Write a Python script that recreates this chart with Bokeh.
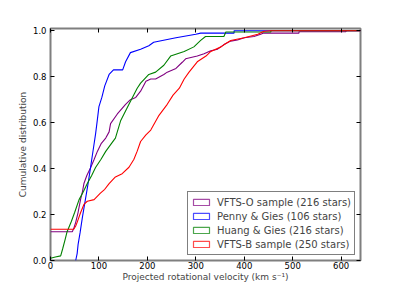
from bokeh.plotting import figure
from bokeh.models import (Range1d, LinearAxis, FixedTicker, PrintfTickFormatter,
                          CustomJSTickFormatter, ColumnDataSource, Legend, LegendItem)
from bokeh.embed import file_html
from bokeh.resources import INLINE

# ---- data ----
vfts_o_v = [0, 45, 48, 52, 57, 62, 66, 69, 75, 83, 90, 97, 105, 114, 121, 124, 138, 155, 165, 176,
            186, 197, 207, 217, 234, 241, 259, 272, 279, 303, 317, 331, 345, 358, 372, 386, 400,
            420, 434, 440, 513, 513, 610, 610, 640]
vfts_o_f = [0.125, 0.125, 0.14, 0.166, 0.21, 0.265, 0.30, 0.335, 0.37, 0.405, 0.44, 0.476, 0.51,
            0.533, 0.56, 0.596, 0.638, 0.68, 0.70, 0.71, 0.737, 0.78, 0.79, 0.79, 0.81, 0.82, 0.836,
            0.863, 0.878, 0.89, 0.90, 0.913, 0.92, 0.94, 0.955, 0.96, 0.97, 0.975, 0.985, 0.99,
            0.99, 0.996, 0.996, 1.0, 1.0]

penny_v = [52, 55, 57, 61, 66, 72, 78, 83, 88, 93, 96, 100, 106, 112, 121, 130, 149, 155, 165,
           186, 203, 213, 259, 300, 310, 379, 379, 640]
penny_f = [0.0, 0.03, 0.07, 0.12, 0.19, 0.265, 0.34, 0.41, 0.48, 0.55, 0.60, 0.67, 0.71, 0.76,
           0.81, 0.83, 0.83, 0.865, 0.905, 0.92, 0.935, 0.95, 0.97, 0.985, 0.99, 0.99, 1.0, 1.0]

huang_v = [0, 10, 21, 25, 30, 34, 43, 50, 59, 68, 76, 85, 93, 104, 114, 126, 134, 145, 162, 179,
           186, 203, 217, 234, 248, 276, 296, 310, 320, 358, 362, 455, 455, 640]
huang_f = [0.01, 0.015, 0.02, 0.05, 0.09, 0.124, 0.17, 0.21, 0.265, 0.30, 0.335, 0.37, 0.405,
           0.44, 0.475, 0.51, 0.533, 0.61, 0.68, 0.75, 0.772, 0.81, 0.82, 0.85, 0.89, 0.91, 0.93,
           0.958, 0.975, 0.975, 0.995, 0.995, 1.0, 1.0]

vfts_b_v = [0, 48, 52, 55, 62, 69, 76, 90, 103, 112, 121, 134, 148, 162, 172, 179, 186, 197, 207,
            224, 241, 253, 266, 276, 286, 303, 321, 331, 352, 362, 372, 400, 428, 441, 455, 640]
vfts_b_f = [0.136, 0.136, 0.15, 0.166, 0.208, 0.244, 0.258, 0.265, 0.293, 0.31, 0.335, 0.364,
            0.378, 0.406, 0.44, 0.476, 0.518, 0.547, 0.568, 0.632, 0.68, 0.72, 0.75, 0.79, 0.82,
            0.865, 0.89, 0.91, 0.93, 0.945, 0.958, 0.97, 0.985, 0.998, 1.0, 1.0]

series_names = ["VFTS-O sample (216 stars)", "Penny & Gies (106 stars)",
                "Huang & Gies (216 stars)", "VFTS-B sample (250 stars)"]
series_colors = ["#800080", "#0000ff", "#008000", "#ff0000"]

x_ticks = [0, 100, 200, 300, 400, 500, 600]
y_ticks = [0.0, 0.2, 0.4, 0.6, 0.8, 1.0]

FONT = "DejaVu Sans"
NAN = float("nan")

p = figure(width=384, height=284, output_backend="svg", toolbar_location=None,
           x_range=Range1d(0, 640), y_range=Range1d(0, 1.01),
           min_border_left=50, min_border_right=24, min_border_top=28, min_border_bottom=20)
p.grid.visible = False
p.background_fill_color = "white"
p.border_fill_color = "white"
p.outline_line_color = "#7f7f7f"
p.outline_line_width = 2

data = [(vfts_o_v, vfts_o_f), (penny_v, penny_f), (huang_v, huang_f), (vfts_b_v, vfts_b_f)]
items = []
for (xs, ys), name, col in zip(data, series_names, series_colors):
    p.line(xs, ys, line_color=col, line_width=1.1)
    # legend swatch only (no visible mark in the plot)
    dummy = p.quad(source=ColumnDataSource(dict(left=[NAN], right=[NAN], top=[NAN], bottom=[NAN])),
                   left="left", right="right", top="top", bottom="bottom",
                   fill_color="white", fill_alpha=0, line_color=col, line_width=1.2, line_alpha=0.7)
    items.append(LegendItem(label=name, renderers=[dummy], index=0))

legend = Legend(items=items, location="bottom_right", margin=5, padding=3, spacing=0,
                label_height=14, glyph_height=8, glyph_width=20, label_standoff=6,
                label_text_font=FONT, label_text_font_size="10px",
                border_line_color="black", border_line_width=1,
                background_fill_alpha=1)
p.add_layout(legend, "center")

for ax in (p.xaxis[0], p.yaxis[0]):
    ax.axis_line_color = None
    ax.major_tick_in = 4
    ax.major_tick_out = 0
    ax.minor_tick_line_color = None
    ax.major_tick_line_color = "black"
    ax.major_label_text_font = FONT
    ax.major_label_text_font_size = "8.5px"
    ax.major_label_text_color = "black"
    ax.axis_label_text_font = FONT
    ax.axis_label_text_font_size = "9px"
    ax.axis_label_text_font_style = "normal"

p.xaxis[0].ticker = FixedTicker(ticks=x_ticks)
p.yaxis[0].ticker = FixedTicker(ticks=y_ticks)
p.yaxis[0].formatter = PrintfTickFormatter(format="%.1f")
p.xaxis[0].axis_label = "Projected rotational velocity (km s\u207b\u00b9)"
p.yaxis[0].axis_label = "Cumulative distribution"
p.xaxis[0].major_label_standoff = 1
p.xaxis[0].axis_label_standoff = 0
p.yaxis[0].major_label_standoff = 4
p.yaxis[0].axis_label_standoff = 2

for loc, ticks in (("above", x_ticks), ("right", y_ticks)):
    ax = LinearAxis(ticker=FixedTicker(ticks=ticks), axis_line_color=None,
                    major_tick_in=4, major_tick_out=0, minor_tick_line_color=None,
                    formatter=CustomJSTickFormatter(code="return ''"),
                    major_label_standoff=0, major_tick_line_color="black")
    p.add_layout(ax, loc)

open("out.html", "w").write(file_html(p, INLINE))
